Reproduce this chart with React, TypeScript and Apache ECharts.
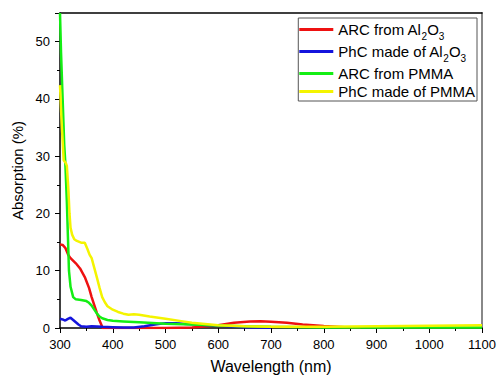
import React, { useEffect, useRef } from "react";
import * as echarts from "echarts";

const seriesNames = ["ARC from Al2O3", "PhC made of Al2O3", "ARC from PMMA", "PhC made of PMMA"];
const seriesColors = ["#ee1111", "#1414dd", "#14ee14", "#f4f400"];

const redWl = [300, 305, 310, 316, 320, 330, 338, 347, 355, 360, 365, 370, 375, 381, 400, 450, 500, 550, 580, 600, 630, 660, 680, 700, 730, 760, 800, 840, 870];
const redVal = [14.6, 14.5, 14.0, 12.7, 12.2, 11.3, 10.4, 8.9, 7.0, 5.4, 4.0, 2.6, 1.3, 0, 0, 0, 0, 0.1, 0.3, 0.5, 0.9, 1.15, 1.2, 1.1, 0.9, 0.6, 0.35, 0.15, 0.05];

const blueWl = [300, 305, 310, 315, 320, 325, 330, 335, 340, 350, 360, 370, 380, 400, 420, 440, 460, 480, 500, 520, 540, 560, 580, 600, 620, 650, 700];
const blueVal = [1.6, 1.5, 1.3, 1.6, 1.8, 1.4, 1.0, 0.6, 0.3, 0.2, 0.3, 0.25, 0.2, 0.15, 0.1, 0.1, 0.3, 0.6, 0.85, 0.85, 0.7, 0.6, 0.5, 0.45, 0.3, 0.15, 0.05];

const greenWl = [300, 302, 305, 308, 310, 313, 315, 317, 320, 325, 330, 340, 350, 355, 360, 365, 370, 375, 380, 390, 400, 420, 450, 500, 550, 600, 650, 700, 800, 900, 1000, 1100];
const greenVal = [55, 48, 40, 32, 29, 22, 16, 10, 7.2, 5.4, 5.0, 4.9, 4.7, 4.4, 3.9, 3.2, 2.5, 2.0, 1.7, 1.4, 1.25, 1.15, 1.0, 0.75, 0.6, 0.45, 0.3, 0.2, 0.1, 0.1, 0.1, 0.1];

const yellowWl = [300, 303, 307, 311, 313, 316, 318, 320, 323, 327, 332, 340, 347, 352, 356, 360, 365, 370, 375, 380, 385, 390, 400, 410, 420, 430, 440, 450, 470, 500, 530, 550, 600, 650, 700, 800, 900, 1000, 1100];
const yellowVal = [42.4, 36, 29.3, 28.8, 28.3, 24, 20, 17.5, 16.3, 15.5, 15.2, 14.9, 14.9, 13.8, 12.8, 12.2, 10.5, 8.8, 7, 5.4, 4.5, 3.8, 3.2, 2.8, 2.5, 2.3, 2.4, 2.3, 2.0, 1.6, 1.2, 0.9, 0.5, 0.3, 0.2, 0.2, 0.3, 0.4, 0.5];

const xMin = 300, xMax = 1100, xStep = 100;
const yMin = 0, yMax = 55, yStep = 10;

const zip = (a: number[], b: number[]) => a.map((x, i) => [x, b[i]]);
const allData = [zip(redWl, redVal), zip(blueWl, blueVal), zip(greenWl, greenVal), zip(yellowWl, yellowVal)];

const FONT = "'Liberation Sans', Arial, sans-serif";

export default function App() {
  const ref = useRef<HTMLDivElement>(null);
  useEffect(() => {
    if (!ref.current) return;
    const chart = echarts.init(ref.current, null, { renderer: "svg" });
    const noDecor = {
      axisTick: { show: false },
      axisLabel: { show: false },
      splitLine: { show: false },
    };
    chart.setOption({
      animation: false,
      backgroundColor: "#ffffff",
      textStyle: { fontFamily: FONT },
      grid: { left: 60, right: 17, top: 13, bottom: 47, containLabel: false, outerBoundsMode: "none" },
      legend: {
        orient: "vertical",
        right: 22,
        top: 18,
        data: seriesNames,
        icon: "rect",
        itemWidth: 34,
        itemHeight: 3,
        itemGap: 3,
        padding: [4, 2, 2, 1],
        borderColor: "#555",
        borderWidth: 1,
        backgroundColor: "#ffffff",
        formatter: (name: string) =>
          name.indexOf("Al2O3") >= 0
            ? "{n|" + name.replace("Al2O3", "Al") + "}{s|2}{n|O}{s|3}"
            : "{n|" + name + "}",
        textStyle: {
          fontFamily: FONT,
          fontSize: 15,
          color: "#000",
          rich: {
            n: { fontFamily: FONT, fontSize: 15, lineHeight: 15, verticalAlign: "top", color: "#000" },
            s: { fontFamily: FONT, fontSize: 10, lineHeight: 10, padding: [9, 0, 0, 0], verticalAlign: "top", color: "#000" },
          },
        },
      },
      xAxis: [
        {
          type: "value",
          min: xMin,
          max: xMax,
          interval: xStep,
          position: "bottom",
          name: "Wavelength (nm)",
          nameLocation: "middle",
          nameGap: 30,
          nameTextStyle: { fontFamily: FONT, fontSize: 16, color: "#000" },
          axisLine: { show: true, onZero: false, lineStyle: { color: "#000", width: 1.5 } },
          axisTick: { show: true, inside: false, length: 5, lineStyle: { color: "#000", width: 1 } },
          minorTick: { show: true, splitNumber: 2, length: 3, lineStyle: { color: "#000", width: 1 } },
          axisLabel: { margin: 10, fontFamily: FONT, fontSize: 13, color: "#000", formatter: (v: number) => String(v) },
          splitLine: { show: false },
        },
        {
          type: "value",
          min: xMin,
          max: xMax,
          position: "top",
          axisLine: { show: true, onZero: false, lineStyle: { color: "#000", width: 1.5 } },
          ...noDecor,
        },
      ],
      yAxis: [
        {
          type: "value",
          min: yMin,
          max: yMax,
          interval: yStep,
          position: "left",
          name: "Absorption (%)",
          nameLocation: "middle",
          nameGap: 27,
          nameTextStyle: { fontFamily: FONT, fontSize: 15, color: "#000" },
          axisLine: { show: true, onZero: false, lineStyle: { color: "#000", width: 1.5 } },
          axisTick: { show: true, inside: false, length: 5, lineStyle: { color: "#000", width: 1 } },
          minorTick: { show: true, splitNumber: 2, length: 3, lineStyle: { color: "#000", width: 1 } },
          axisLabel: { margin: 10, fontFamily: FONT, fontSize: 13, color: "#000", showMaxLabel: false, formatter: (v: number) => String(v) },
          splitLine: { show: false },
        },
        {
          type: "value",
          min: yMin,
          max: yMax,
          position: "right",
          axisLine: { show: true, onZero: false, lineStyle: { color: "#888", width: 2 } },
          ...noDecor,
        },
      ],
      series: seriesNames.map((name, i) => ({
        name,
        type: "line",
        xAxisIndex: 0,
        yAxisIndex: 0,
        data: allData[i],
        symbol: "none",
        color: seriesColors[i],
        lineStyle: { color: seriesColors[i], width: 2.5 },
        clip: true,
      })),
    });
    return () => chart.dispose();
  }, []);
  return (
    <div
      ref={ref}
      style={{ position: "absolute", left: 0, top: 0, width: 499, height: 375 }}
    />
  );
}
